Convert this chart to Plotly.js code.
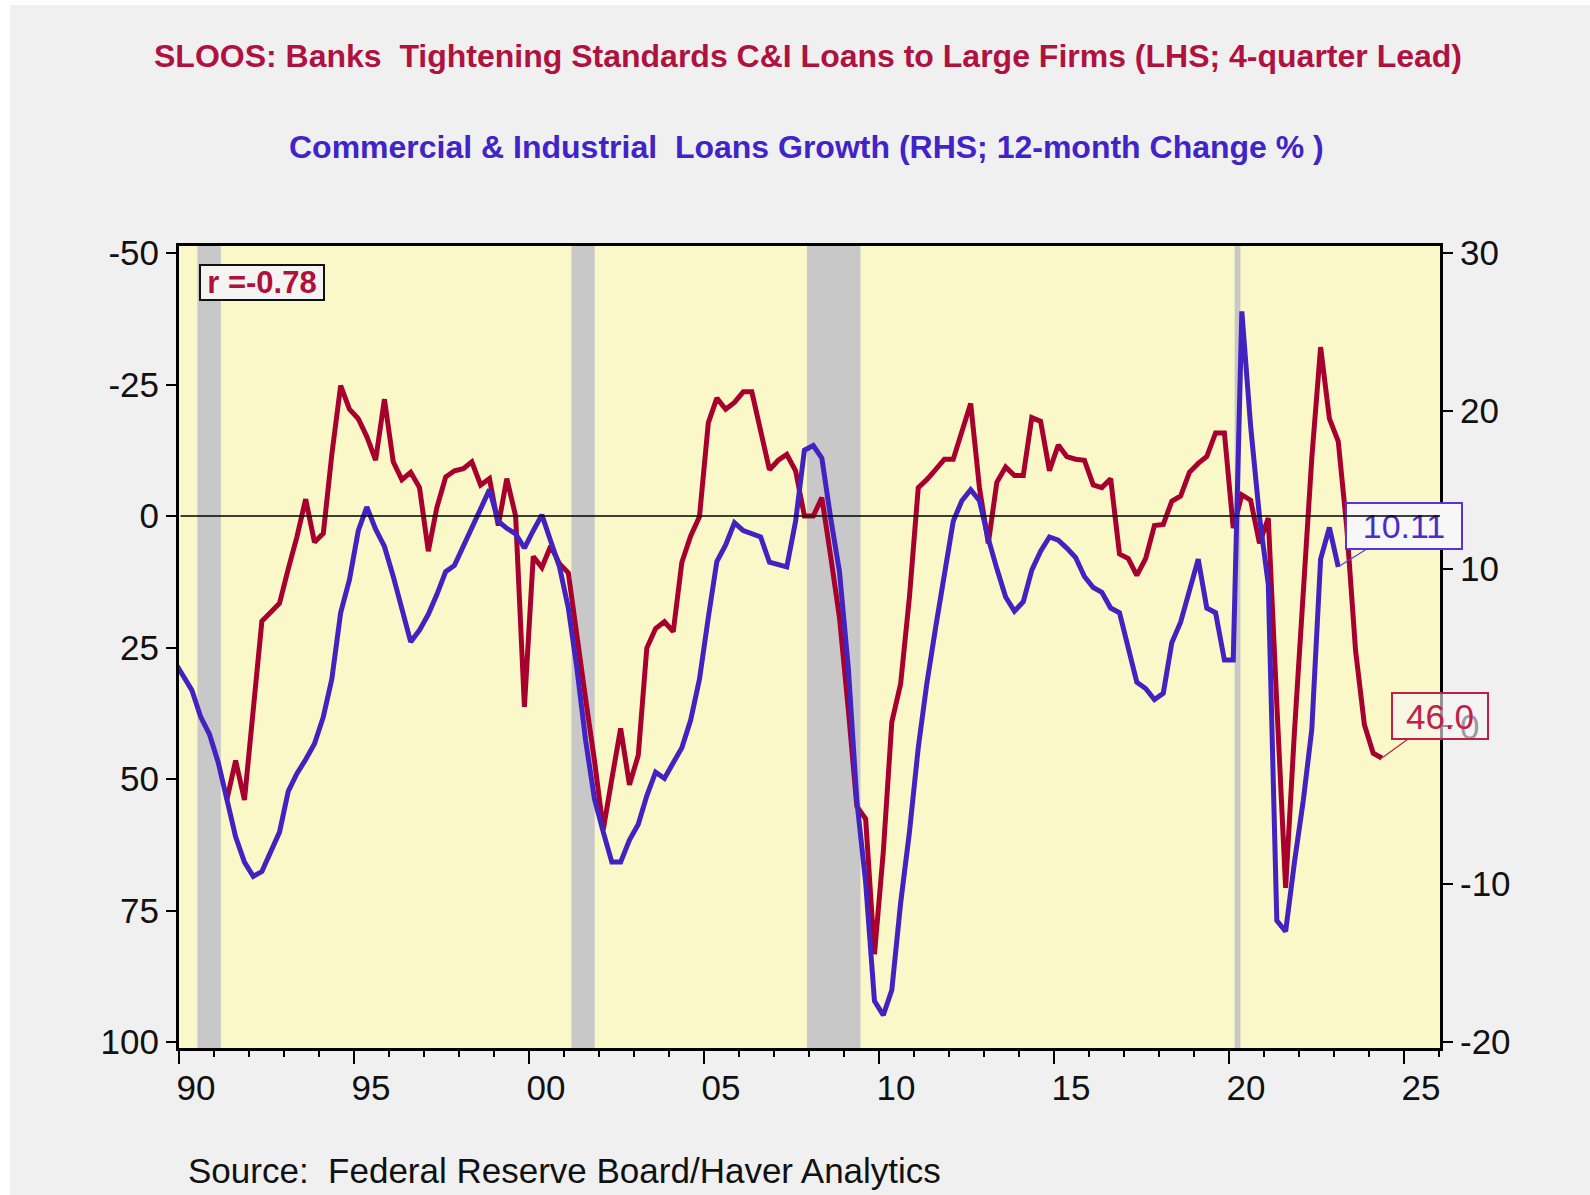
<!DOCTYPE html>
<html>
<head>
<meta charset="utf-8">
<script src="https://cdn.plot.ly/plotly-3.0.1.min.js"></script>
<style>html,body{margin:0;padding:0;background:#fff}</style>
</head>
<body>
<div id="graph" style="width:1590px;height:1195px"></div>
<script>
// Quarterly values.
// SLOOS net % tightening (large firms), already led by 4 quarters, first point 1991 Q2
var sloos_start = [1991, 2]
var sloos_tight = [
  54, 46.5, 54,
  37.7, 20, 18.3, 16.6,
  10, 4, -3.2, 5,
  3.3, -11.7, -24.8, -20.3,
  -18.5, -15.1, -10.6, -22.2,
  -10.3, -6.9, -8.3, -5.4,
  6.7, -1.6, -7.4, -8.6,
  -9.0, -10.3, -5.9, -7.1,
  1.8, -7.1, 0, 36.3,
  7.7, 9.8, 5.7, 9.1,
  10.8, 23.2, 34.8, 46.5,
  59.6, 50, 40.4, 51.1,
  45.5, 25.1, 21.4, 20.1,
  22.0, 8.8, 3.8, 0.1,
  -17.7, -22.4, -20.3, -21.6,
  -23.6, -23.6, -16.1, -8.8,
  -10.6, -11.7, -8.6, 0,
  0, -3.5, 7.7, 19.3,
  36.8, 55.2, 57.6, 83.3,
  63.9, 39.2, 31.9, 15.4,
  -5.4, -6.9, -8.8, -10.8,
  -10.8, -16.1, -21.4, -5.3,
  5.2, -6.4, -9.3, -7.7,
  -7.7, -18.7, -18.0, -8.6,
  -13.5, -11.3, -10.8, -10.6,
  -5.9, -5.4, -7.1, 7.2,
  8.1, 11.3, 8.1, 1.8,
  1.6, -2.8, -3.8, -8.3,
  -10.0, -11.3, -15.8, -15.8,
  2.3, -4.0, -3.0, 5.2,
  0.4, 35.8, 70.7, 41,
  16, -11, -32.1, -18.5,
  -14.2, 2.2, 25.6, 39.7,
  45.1, 46.0
]

// C&I loans, 12-month % change, first point 1989 Q4 (clipped by the axis)
var ci_start = [1989, 4]
var ci_growth = [
  4.1,
  3.2, 2.3, 0.6, -0.5,
  -2.3, -4.6, -7.0, -8.6,
  -9.5, -9.2, -8.0, -6.7,
  -4.1, -3.0, -2.1, -1.1,
  0.6, 3.0, 7.2, 9.3,
  12.4, 13.9, 12.5, 11.4,
  9.5, 7.4, 5.35, 6.1,
  7.1, 8.35, 9.8, 10.2,
  11.4, 12.55, 13.7, 15.0,
  13.0, 12.55, 12.2, 11.3,
  12.4, 13.4, 11.75, 10.1,
  7.5, 3.7, -0.9, -4.6,
  -6.7, -8.6, -8.6, -7.2,
  -6.2, -4.4, -2.9, -3.3,
  -2.3, -1.35, 0.4, 3.0,
  6.9, 10.45, 11.5, 12.9,
  12.4, 12.2, 12.0, 10.4,
  10.25, 10.1, 13.0, 17.5,
  17.8, 17.0, 13.2, 9.8,
  3.7, -4.7, -9.9, -17.4,
  -18.3, -16.7, -11.2, -6.7,
  -1.35, 2.7, 6.25, 9.65,
  13.0, 14.3, 15.0, 14.3,
  11.9, 10.0, 8.2, 7.3,
  7.9, 9.9, 11.1, 12.0,
  11.8, 11.3, 10.7, 9.5,
  8.8, 8.5, 7.5, 7.2,
  5.0, 2.8, 2.4, 1.7,
  2.1, 5.3, 6.6, 8.7,
  10.6, 7.5, 7.2, 4.2,
  4.2, 26.3, 19.0, 13.3,
  9.0, -12.3, -13.0, -8.6,
  -4.7, -0.2, 10.6, 12.6,
  10.11
]

// NBER recessions (shaded)
var rec_start = ['1990-07-12', '2001-03-20', '2007-12-12', '2020-03-01']
var rec_end   = ['1991-03-14', '2001-11-18', '2009-06-22', '2020-04-30']

var left_ticks  = [-50, -25, 0, 25, 50, 75, 100]
var right_ticks = [30, 20, 10, 0, -10, -20]

var corr_text = 'r =-0.78'

var red = '#A8002E'
var blue = '#4222C0'
var font_fam = "Arial, 'Liberation Sans', sans-serif"

// quarter -> mid-quarter date
function quarterDates(start, n) {
  var mids = ['02-15', '05-15', '08-15', '11-15']
  var out = []
  var y = start[0], q = start[1]
  for (var i = 0; i < n; i++) {
    out.push(y + '-' + mids[q - 1])
    q++
    if (q > 4) { q = 1; y++ }
  }
  return out
}

var sloos_dates = quarterDates(sloos_start, sloos_tight.length)
var ci_dates = quarterDates(ci_start, ci_growth.length)

var trace_ci = {
  x: ci_dates, y: ci_growth, yaxis: 'y2',
  mode: 'lines', line: {color: blue, width: 5}
}
var trace_sloos = {
  x: sloos_dates, y: sloos_tight, yaxis: 'y',
  mode: 'lines', line: {color: red, width: 5}
}

// plot area in page pixels: x 179..1440, y 246..1048
var shapes = [
  // grey page with a thin white strip top/left
  {type: 'rect', xref: 'paper', yref: 'paper', layer: 'below',
   x0: -0.134, x1: 1.2, y0: -0.2, y1: 1.3005, fillcolor: '#F0F0F0', line: {width: 0}},
  // yellow plot area
  {type: 'rect', xref: 'paper', yref: 'paper', layer: 'below',
   x0: 0, x1: 1, y0: 0, y1: 1, fillcolor: '#FAF8C8', line: {width: 0}}
]
for (var i = 0; i < rec_start.length; i++) {
  shapes.push({type: 'rect', xref: 'x', yref: 'paper', layer: 'below',
    x0: rec_start[i], x1: rec_end[i], y0: 0, y1: 1,
    fillcolor: '#C8C8C8', line: {width: 0}})
}

var lastCi = ci_growth.length - 1
var lastSl = sloos_tight.length - 1

var annotations = [
  {xref: 'paper', yref: 'paper', x: 0.498, y: 1.1234, xanchor: 'center', yanchor: 'middle',
   showarrow: false, text: '<b>Commercial &amp; Industrial  Loans Growth (RHS; 12-month Change % )</b>',
   font: {family: font_fam, size: 32, color: '#4024C8'}},
  {xref: 'paper', yref: 'paper', x: 0.0056, y: -0.153, xanchor: 'left', yanchor: 'middle',
   showarrow: false, text: 'Source:  Federal Reserve Board/Haver Analytics',
   font: {family: font_fam, size: 35, color: '#111111'}},
  {xref: 'paper', yref: 'paper', x: 0.0658, y: 0.9545, xanchor: 'center', yanchor: 'middle',
   showarrow: false, text: '<b>' + corr_text + '</b>',
   font: {family: font_fam, size: 31, color: '#B0103A'},
   bgcolor: '#F4F4F2', bordercolor: '#111111', borderwidth: 2, borderpad: 1,
   width: 120, height: 31},
  {xref: 'x', yref: 'y2', x: ci_dates[lastCi], y: ci_growth[lastCi],
   text: ci_growth[lastCi].toFixed(2), showarrow: true, arrowhead: 0,
   arrowwidth: 1.2, arrowcolor: '#5A3BE0', ax: 66, ay: -41, standoff: 0,
   font: {family: font_fam, size: 34, color: '#4A2CCB'},
   bgcolor: '#F7F7F7', bordercolor: '#5533DD', borderwidth: 2, borderpad: 1,
   width: 112, height: 42},
  {xref: 'x', yref: 'y', x: sloos_dates[lastSl], y: sloos_tight[lastSl],
   text: sloos_tight[lastSl].toFixed(1), showarrow: true, arrowhead: 0,
   arrowwidth: 1.2, arrowcolor: '#C02048', ax: 58, ay: -42, standoff: 0,
   font: {family: font_fam, size: 35, color: '#C0204A'},
   bgcolor: 'rgba(247,247,247,0.6)', bordercolor: '#C02048', borderwidth: 2, borderpad: 1,
   width: 92, height: 42},
  // zero line for the left scale, drawn last so it crosses the label box like the original
  {xref: 'paper', yref: 'y', x: 1, y: 0, ax: -1261, ay: 0, text: '',
   showarrow: true, arrowhead: 0, arrowwidth: 1.6, arrowcolor: '#000000',
   standoff: 0, startstandoff: 0}
]

var tickfont = {family: font_fam, size: 35, color: '#111111'}

var layout = {
  width: 1590, height: 1195,
  margin: {l: 179, r: 150, t: 246, b: 147, pad: 0},
  paper_bgcolor: '#FFFFFF',
  plot_bgcolor: 'rgba(0,0,0,0)',
  showlegend: false,
  title: {
    text: '<b>SLOOS: Banks  Tightening Standards C&amp;I Loans to Large Firms (LHS; 4-quarter Lead)</b>',
    x: 808 / 1590, xanchor: 'center', xref: 'container',
    y: 1 - 56 / 1195, yanchor: 'middle', yref: 'container',
    font: {family: font_fam, size: 32, color: '#B0123F'}
  },
  xaxis: {
    type: 'date',
    range: ['1990-01-01', '2026-01-12'],
    tick0: '1990-01-01', dtick: 'M60', tickformat: '%y',
    ticks: 'outside', ticklen: 13, tickwidth: 2, tickcolor: '#000',
    minor: {dtick: 'M12', tick0: '1990-01-01', ticks: 'outside', ticklen: 6, tickwidth: 2, tickcolor: '#000'},
    ticklabelshift: 17,
    ticklabelstandoff: -6,
    tickfont: tickfont,
    showline: true, linewidth: 3, linecolor: '#000', mirror: true,
    showgrid: false, zeroline: false
  },
  yaxis: {
    range: [101.14, -51.33],
    tickmode: 'array', tickvals: left_ticks, ticktext: left_ticks.map(String),
    ticks: 'outside', ticklen: 10, tickwidth: 2, tickcolor: '#000',
    tickfont: tickfont,
    showline: true, linewidth: 3, linecolor: '#000',
    showgrid: false, zeroline: false
  },
  yaxis2: {
    overlaying: 'y', side: 'right',
    range: [-20.38, 30.44],
    tickmode: 'array', tickvals: right_ticks, ticktext: right_ticks.map(String),
    ticks: 'outside', ticklen: 10, tickwidth: 2, tickcolor: '#000',
    tickfont: tickfont,
    showline: true, linewidth: 3, linecolor: '#000',
    showgrid: false, zeroline: false
  },
  shapes: shapes,
  annotations: annotations
}

Plotly.newPlot('graph', [trace_ci, trace_sloos], layout, {displayModeBar: false, staticPlot: true})
</script>
</body>
</html>
